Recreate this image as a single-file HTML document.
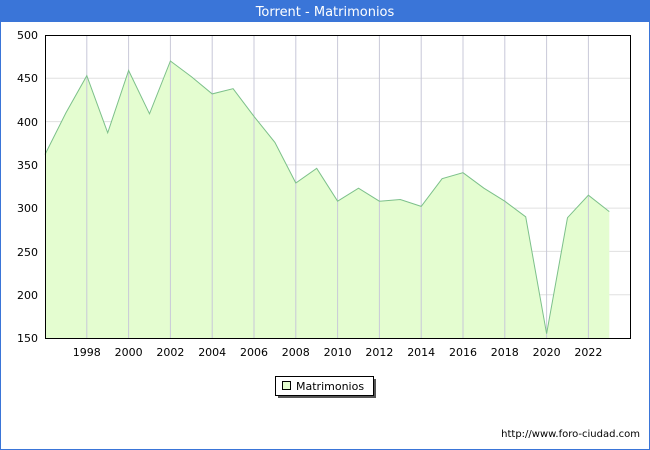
<!DOCTYPE html>
<html><head><style>
body{margin:0;background:#fff;}
svg{display:block;font-family:"DejaVu Sans","Liberation Sans",sans-serif;}
</style></head><body>
<svg width="650" height="450" xmlns="http://www.w3.org/2000/svg">
<rect x="0.5" y="0.5" width="649" height="449" fill="#fff" stroke="#3a75d8"/>
<rect x="0" y="0" width="650" height="22" fill="#3a75d8"/>
<text x="325" y="16" fill="#fff" font-size="13" text-anchor="middle">Torrent - Matrimonios</text>
<g stroke="#e0e0e0" stroke-width="1">
<line x1="45" y1="294.7" x2="630" y2="294.7"/><line x1="45" y1="251.4" x2="630" y2="251.4"/>
<line x1="45" y1="208.1" x2="630" y2="208.1"/><line x1="45" y1="164.9" x2="630" y2="164.9"/>
<line x1="45" y1="121.6" x2="630" y2="121.6"/><line x1="45" y1="78.3" x2="630" y2="78.3"/>
</g>
<polygon fill="#e4fdd0" stroke="none" points="45,338 45,154.5 65.9,112.9 86.8,75.7 107.7,132.8 128.6,70.5 149.5,113.8 170.4,61 191.3,76.6 212.2,93.9 233.1,88.7 254,116.4 274.9,142.4 295.8,183 316.7,168.3 337.6,201.2 358.5,188.2 379.4,201.2 400.3,199.5 421.2,206.4 442.1,178.7 463,172.7 483.9,188.2 504.8,201.2 525.7,216.8 546.6,333.7 567.5,217.7 588.4,195.2 609.3,211.6 609.3,338"/>
<g stroke="#c8c8d8" stroke-width="1">
<line x1="86.8" y1="35" x2="86.8" y2="338"/><line x1="128.6" y1="35" x2="128.6" y2="338"/>
<line x1="170.4" y1="35" x2="170.4" y2="338"/><line x1="212.2" y1="35" x2="212.2" y2="338"/>
<line x1="254" y1="35" x2="254" y2="338"/><line x1="295.8" y1="35" x2="295.8" y2="338"/>
<line x1="337.6" y1="35" x2="337.6" y2="338"/><line x1="379.4" y1="35" x2="379.4" y2="338"/>
<line x1="421.2" y1="35" x2="421.2" y2="338"/><line x1="463" y1="35" x2="463" y2="338"/>
<line x1="504.8" y1="35" x2="504.8" y2="338"/><line x1="546.6" y1="35" x2="546.6" y2="338"/>
<line x1="588.4" y1="35" x2="588.4" y2="338"/>
</g>
<polyline fill="none" stroke="#7cc08a" stroke-width="1" points="45,154.5 65.9,112.9 86.8,75.7 107.7,132.8 128.6,70.5 149.5,113.8 170.4,61 191.3,76.6 212.2,93.9 233.1,88.7 254,116.4 274.9,142.4 295.8,183 316.7,168.3 337.6,201.2 358.5,188.2 379.4,201.2 400.3,199.5 421.2,206.4 442.1,178.7 463,172.7 483.9,188.2 504.8,201.2 525.7,216.8 546.6,333.7 567.5,217.7 588.4,195.2 609.3,211.6"/>
<rect x="45.5" y="35.5" width="585" height="303" fill="none" stroke="#000"/>
<g font-size="11" fill="#000" text-anchor="end">
<text x="38" y="342">150</text><text x="38" y="299">200</text><text x="38" y="256">250</text>
<text x="38" y="212">300</text><text x="38" y="169">350</text><text x="38" y="126">400</text>
<text x="38" y="82">450</text><text x="38" y="39">500</text>
</g>
<g font-size="11" fill="#000" text-anchor="middle">
<text x="86.8" y="356">1998</text><text x="128.6" y="356">2000</text><text x="170.4" y="356">2002</text>
<text x="212.2" y="356">2004</text><text x="254" y="356">2006</text><text x="295.8" y="356">2008</text>
<text x="337.6" y="356">2010</text><text x="379.4" y="356">2012</text><text x="421.2" y="356">2014</text>
<text x="463" y="356">2016</text><text x="504.8" y="356">2018</text><text x="546.6" y="356">2020</text>
<text x="588.4" y="356">2022</text>
</g>
<rect x="278" y="379" width="98" height="19" fill="#555"/>
<rect x="275.5" y="376.5" width="98" height="19" fill="#fff" stroke="#000"/>
<rect x="282.5" y="381.5" width="8" height="8" fill="#e4fdd0" stroke="#000"/>
<text x="296" y="390" font-size="11">Matrimonios</text>
<text x="640" y="437" font-size="10" text-anchor="end">http://www.foro-ciudad.com</text>
</svg>
</body></html>
